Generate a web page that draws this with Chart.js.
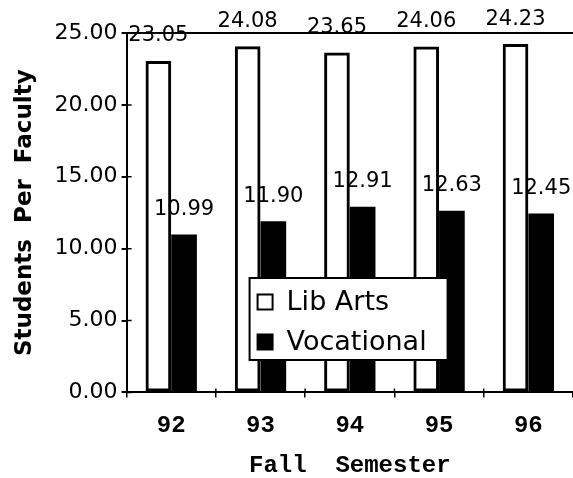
<!DOCTYPE html>
<html>
<head>
<meta charset="utf-8">
<script src="https://cdn.jsdelivr.net/npm/chart.js@4"></script>
<style>
  body { margin: 0; background: #fff; }
  canvas { display: block; }
</style>
</head>
<body>
<canvas id="myChart" width="573" height="478"></canvas>
<script>
// Values
var semesters = ['92', '93', '94', '95', '96'];
var libArts = [23.05, 24.08, 23.65, 24.06, 24.23];
var vocational = [10.99, 11.90, 12.91, 12.63, 12.45];
var seriesNames = ['Lib Arts', 'Vocational'];
var yTicks = [0, 5, 10, 15, 20, 25];

Chart.defaults.color = '#000';

// Value labels above each bar, drawn before the bars so bar outlines cross them
var valueLabels = {
    id: 'valueLabels',
    beforeDraw: function (chart) {
        var ctx = chart.ctx;
        ctx.save();
        ctx.font = '21px "DejaVu Sans"';
        ctx.fillStyle = '#000';
        ctx.textAlign = 'center';
        ctx.textBaseline = 'middle';
        chart.data.datasets.forEach(function (ds, i) {
            chart.getDatasetMeta(i).data.forEach(function (bar, j) {
                ctx.fillText(ds.data[j].toFixed(2), bar.x, bar.y - 25);
            });
        });
        ctx.restore();
    }
};

// Boxed legend sitting inside the plot area
var boxLegend = {
    id: 'boxLegend',
    afterDatasetsDraw: function (chart, args, opts) {
        var ctx = chart.ctx;
        var area = chart.chartArea;
        var x = area.left + opts.offsetX;
        var y = area.top + opts.offsetY;
        ctx.save();
        ctx.fillStyle = '#fff';
        ctx.fillRect(x, y, opts.width, opts.height);
        ctx.lineWidth = 2;
        ctx.strokeStyle = '#000';
        ctx.strokeRect(x, y, opts.width, opts.height);
        ctx.font = opts.font;
        ctx.textBaseline = 'middle';
        chart.data.datasets.forEach(function (ds, i) {
            var rowY = y + opts.rowTop + i * opts.rowGap;
            var s = opts.swatch;
            ctx.fillStyle = ds.backgroundColor === '#000' ? '#000' : '#fff';
            ctx.fillRect(x + 8, rowY - s / 2, s, s);
            ctx.lineWidth = 2;
            ctx.strokeStyle = '#000';
            ctx.strokeRect(x + 8, rowY - s / 2, s, s);
            ctx.fillStyle = '#000';
            ctx.fillText(ds.label, x + 37, rowY + 1);
        });
        ctx.restore();
    }
};

// Small tick marks pointing into the plot, so the ticks look like crosses
var innerTicks = {
    id: 'innerTicks',
    afterDraw: function (chart) {
        var ctx = chart.ctx;
        var area = chart.chartArea;
        var ys = chart.scales.y;
        var xs = chart.scales.x;
        ctx.save();
        ctx.strokeStyle = '#000';
        ctx.lineWidth = 1.5;
        ctx.beginPath();
        ys.ticks.forEach(function (t, i) {
            var py = ys.getPixelForTick(i);
            ctx.moveTo(area.left, py);
            ctx.lineTo(area.left + 5, py);
        });
        for (var i = 1; i < semesters.length; i++) {
            var px = (xs.getPixelForValue(i - 1) + xs.getPixelForValue(i)) / 2;
            ctx.moveTo(px, area.bottom);
            ctx.lineTo(px, area.bottom - 4);
        }
        ctx.stroke();
        ctx.restore();
    }
};

var ctx = document.getElementById('myChart').getContext('2d');
var myChart = new Chart(ctx, {
    type: 'bar',
    data: {
        labels: semesters,
        datasets: [
            {
                label: seriesNames[0],
                data: libArts,
                backgroundColor: 'rgba(255,255,255,0)',
                borderColor: '#000',
                borderWidth: 3,
                borderSkipped: false
            },
            {
                label: seriesNames[1],
                data: vocational,
                backgroundColor: '#000',
                borderColor: '#000',
                borderWidth: 0
            }
        ]
    },
    options: {
        responsive: false,
        devicePixelRatio: 1,
        animation: false,
        categoryPercentage: 0.575,
        barPercentage: 1,
        layout: {
            padding: { top: 33, right: -6, left: 8, bottom: -2 }
        },
        plugins: {
            legend: { display: false },
            tooltip: { enabled: false },
            boxLegend: {
                offsetX: 123,
                offsetY: 245,
                width: 198,
                height: 82,
                rowTop: 24,
                rowGap: 40,
                swatch: 15,
                font: '27px "DejaVu Sans"'
            }
        },
        scales: {
            x: {
                grid: {
                    display: true,
                    drawOnChartArea: false,
                    offset: true,
                    color: '#000',
                    lineWidth: 1.5,
                    tickLength: 5
                },
                border: { color: '#000', width: 2 },
                ticks: {
                    padding: 14,
                    font: { family: '"Liberation Mono"', size: 24, weight: 'bold' }
                },
                title: {
                    display: true,
                    text: 'Fall  Semester',
                    padding: { top: -3, bottom: 0 },
                    font: { family: '"Liberation Mono"', size: 24, weight: 'bold' }
                }
            },
            y: {
                min: yTicks[0],
                max: yTicks[yTicks.length - 1],
                ticks: {
                    stepSize: yTicks[1] - yTicks[0],
                    padding: 4,
                    font: { family: '"DejaVu Sans"', size: 22 },
                    callback: function (v) { return v.toFixed(2); }
                },
                grid: {
                    color: function (c) {
                        return c.tick && c.tick.value === yTicks[yTicks.length - 1] ? '#000' : 'rgba(0,0,0,0)';
                    },
                    tickColor: '#000',
                    lineWidth: 2,
                    tickLength: 5
                },
                border: { color: '#000', width: 2 },
                title: {
                    display: true,
                    text: 'Students  Per  Faculty',
                    padding: { top: 3, bottom: 12 },
                    font: { family: '"DejaVu Sans"', size: 23, weight: 'bold' }
                }
            }
        }
    },
    plugins: [valueLabels, boxLegend, innerTicks]
});
</script>
</body>
</html>
